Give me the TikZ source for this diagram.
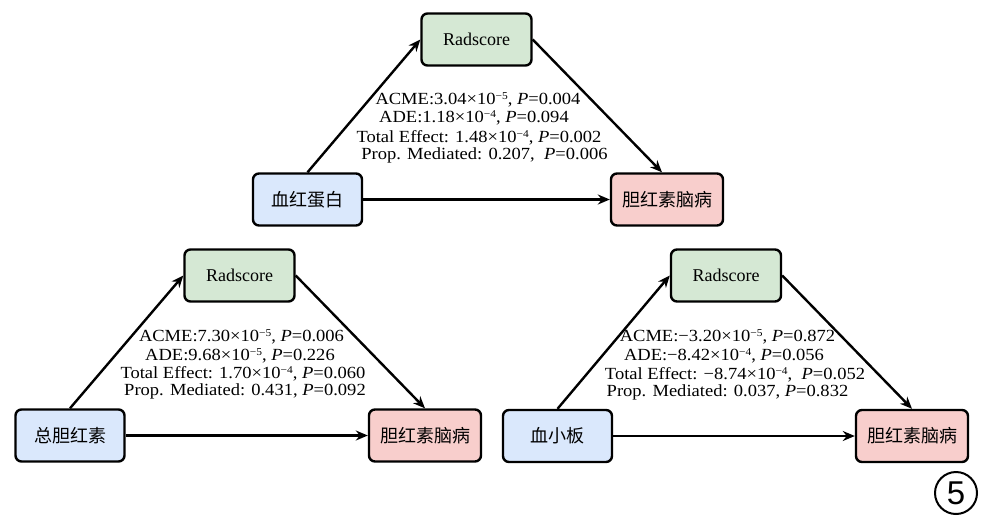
\documentclass[tikz,border=0pt]{standalone}
\usepackage{fontspec}
\setmainfont{Liberation Serif}
\newfontfamily\statfont{Liberation Serif}[FakeStretch=1.09]
\newfontfamily\cjk{Noto Sans CJK SC}
\newfontfamily\arialfont{Liberation Sans}
\usetikzlibrary{arrows.meta}
\definecolor{gfill}{HTML}{D5E8D4}
\definecolor{bfill}{HTML}{DAE8FC}
\definecolor{rfill}{HTML}{F8CECC}
\newcommand{\expo}[1]{\raisebox{0.62ex}{\fontsize{10.5}{10.5}\selectfont #1}}
\tikzset{
  box/.style={draw=black, line width=2.4pt, rounded corners=6pt, inner sep=0pt,
    minimum height=52pt, font=\fontsize{18}{20}\selectfont},
  medbox/.style={box, fill=gfill, minimum width=110pt},
  xbox/.style={box, fill=bfill, minimum width=109pt, font=\fontsize{18}{20}\selectfont\cjk},
  ybox/.style={box, fill=rfill, minimum width=112pt, font=\fontsize{18}{20}\selectfont\cjk},
  arr/.style={line width=2.4pt, -{Stealth[length=12pt,width=10pt]}},
  stat/.style={inner sep=0pt, anchor=center, font=\fontsize{17}{19}\statfont},
}
\begin{document}
\begin{tikzpicture}[x=1pt,y=-1pt]
\useasboundingbox (0,0) rectangle (981,517);
% top diagram
\node[medbox] (R1) at (476.5,39.5) {Radscore};
\node[xbox] (X1) at (307.5,199.5) {血红蛋白};
\node[ybox] (Y1) at (667,199.5) {胆红素脑病};
\draw[arr] (X1.north) -- (R1.west);
\draw[arr] (R1.east) -- ([xshift=-5pt]Y1.north);
\draw[arr] (X1.east) -- (Y1.west);
\node[stat] (s11) at (478,100) {ACME:3.04×10\expo{−5}, \textit{P}=0.004};
\node[stat] (s12) at (474,118) {ADE:1.18×10\expo{−4}, \textit{P}=0.094};
\node[stat] (s13) at (479,138) {Total Effect: 1.48×10\expo{−4}, \textit{P}=0.002};
\node[stat] (s14) at (484.5,155) {Prop. Mediated: 0.207, \ \textit{P}=0.006};
% bottom left diagram
\node[medbox] (R2) at (239.5,275.5) {Radscore};
\node[xbox] (X2) at (70,435.5) {总胆红素};
\node[ybox] (Y2) at (425,435.5) {胆红素脑病};
\draw[arr] (X2.north) -- (R2.west);
\draw[arr] (R2.east) -- (Y2.north);
\draw[arr] (X2.east) -- (Y2.west);
\node[stat] (s21) at (241.5,337) {ACME:7.30×10\expo{−5}, \textit{P}=0.006};
\node[stat] (s22) at (240,356) {ADE:9.68×10\expo{−5}, \textit{P}=0.226};
\node[stat] (s23) at (243,374) {Total Effect: 1.70×10\expo{−4}, \textit{P}=0.060};
\node[stat] (s24) at (245,391) {Prop. Mediated: 0.431, \textit{P}=0.092};
% bottom right diagram
\node[medbox] (R3) at (726,275.5) {Radscore};
\node[xbox] (X3) at (557.5,436) {血小板};
\node[ybox] (Y3) at (912,436) {胆红素脑病};
\draw[arr] (X3.north) -- (R3.west);
\draw[arr] (R3.east) -- (Y3.north);
\draw[arr] (X3.east) -- (Y3.west);
\node[stat] (s31) at (727.5,337) {ACME:−3.20×10\expo{−5}, \textit{P}=0.872};
\node[stat] (s32) at (724,356) {ADE:−8.42×10\expo{−4}, \textit{P}=0.056};
\node[stat] (s33) at (735,375) {Total Effect: −8.74×10\expo{−4}, \ \textit{P}=0.052};
\node[stat] (s34) at (727.5,392) {Prop. Mediated: 0.037, \textit{P}=0.832};
% panel label
\node[draw=black, line width=2pt, circle, minimum size=42pt, inner sep=0pt,
  font=\fontsize{33}{33}\selectfont\arialfont] (lab) at (956,493) {5};
\end{tikzpicture}
\end{document}
